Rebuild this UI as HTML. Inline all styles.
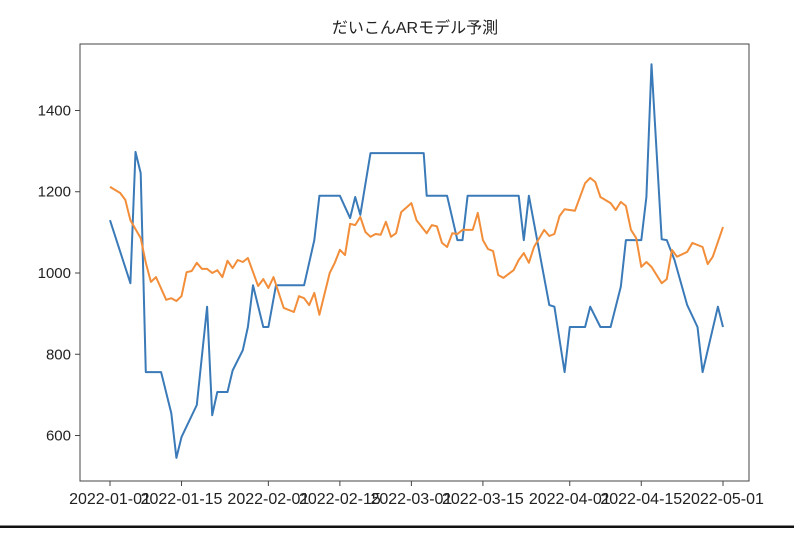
<!DOCTYPE html>
<html><head><meta charset="utf-8"><style>
body{margin:0;background:#fff;width:794px;height:528px;overflow:hidden;font-family:"Liberation Sans","Noto Sans CJK JP",sans-serif;}
</style></head><body>
<svg id="chart" width="794" height="528" xmlns="http://www.w3.org/2000/svg" font-family="Liberation Sans, Noto Sans CJK JP, sans-serif">
<rect x="0" y="0" width="794" height="528" fill="#fff"/>
<text x="415" y="33" text-anchor="middle" font-size="16" fill="#222">だいこんARモデル予測</text>
<rect x="80" y="44" width="669" height="437" fill="none" stroke="#444" stroke-width="1"/>
<g id="yaxis"></g>
<g id="xaxis"></g>
<g id="series"></g>
<line x1="0" y1="527" x2="794" y2="527" stroke="#111" stroke-width="3"/>
</svg>
<script>
const yTicks=[600,800,1000,1200,1400];
const xTickDays=[0,14,31,45,59,73,90,104,120];
const xTickLabels=["2022-01-01","2022-01-15","2022-02-01","2022-02-15","2022-03-01","2022-03-15","2022-04-01","2022-04-15","2022-05-01"];
const actualDays=[0,4,5,6,7,10,12,13,14,17,19,20,21,23,24,26,27,28,30,31,32.5,38,40,41,45,47,48,49,51,61.4,62,66,68,69,70,80,81,82,86,87,89,90,93,94,96,98,100,101,104,105,106,108,109,110.5,113,115,116,119,120];
const actualValues=[1130,975,1298,1246,756,756,655,545,596,675,917,650,707,707,760,810,867,970,867,867,970,970,1081,1190,1190,1135,1187,1143,1295,1295,1190,1190,1081,1081,1190,1190,1081,1190,921,917,756,867,867,917,867,867,966,1081,1081,1187,1514,1083,1081,1032,921,867,756,917,867];
const predDays=[0,2,3,4,6,7,8,9,11,12,13,14,15,16,17,18,19,20,21,22,23,24,25,26,27,29,30,31,32,34,36,37,38,39,40,41,43,44,45,46,47,48,49,50,51,52,53,54,55,56,57,59,60,62,63,64,65,66,67,68,69,71,72,73,74,75,76,77,79,80,81,82,83,85,86,87,88,89,91,93,94,95,96,98,99,100,101,102,103,104,105,106,108,109,110,111,113,114,116,117,118,120];
const predValues=[1212,1197,1180,1130,1086,1025,978,990,934,938,931,943,1002,1005,1025,1010,1010,1000,1007,990,1030,1012,1032,1027,1037,968,985,963,990,914,904,943,938,921,951,897,1000,1025,1057,1044,1121,1118,1138,1101,1089,1096,1094,1126,1089,1098,1150,1172,1130,1098,1118,1115,1074,1064,1098,1096,1106,1106,1148,1081,1059,1054,995,988,1007,1032,1049,1025,1064,1106,1091,1096,1140,1157,1153,1221,1234,1224,1187,1172,1155,1175,1165,1106,1086,1015,1027,1015,975,985,1057,1040,1052,1074,1064,1022,1040,1113];
const NS="http://www.w3.org/2000/svg";
const xs=d=>110+d*(613/120);
const ys=v=>273-(v-1000)*0.4063;
const yax=document.getElementById('yaxis'),xax=document.getElementById('xaxis'),ser=document.getElementById('series');
yTicks.forEach(v=>{
 const l=document.createElementNS(NS,'line');
 
 
 l.setAttribute('x1',75);l.setAttribute('x2',80);l.setAttribute('y1',ys(v));l.setAttribute('y2',ys(v));l.setAttribute('stroke','#444');
 yax.appendChild(l);
 const t=document.createElementNS(NS,'text');
 
 
 t.setAttribute('x',71);t.setAttribute('y',ys(v)+5);t.setAttribute('text-anchor','end');t.setAttribute('font-size','15');t.setAttribute('fill','#222');
 t.textContent=v;yax.appendChild(t);
});
xTickDays.forEach((d,i)=>{
 const l=document.createElementNS(NS,'line');
 
 
 l.setAttribute('x1',xs(d));l.setAttribute('x2',xs(d));l.setAttribute('y1',481);l.setAttribute('y2',486);l.setAttribute('stroke','#444');
 xax.appendChild(l);
 const t=document.createElementNS(NS,'text');
 
 
 t.setAttribute('x',xs(d));t.setAttribute('y',504);t.setAttribute('text-anchor','middle');t.setAttribute('font-size','16');t.setAttribute('fill','#222');
 t.textContent=xTickLabels[i];xax.appendChild(t);
});
function line(days,vals,color,name){
 const p=document.createElementNS(NS,'polyline');
 
 
 p.setAttribute('points',days.map((d,i)=>xs(d).toFixed(1)+','+ys(vals[i]).toFixed(1)).join(' '));
 p.setAttribute('fill','none');p.setAttribute('stroke',color);p.setAttribute('stroke-width','2');p.setAttribute('stroke-linejoin','round');
 ser.appendChild(p);
}
line(actualDays,actualValues,'#3a7ab8','actual-series-line');
line(predDays,predValues,'#f28e3a','predicted-series-line');
</script>
</body></html>
